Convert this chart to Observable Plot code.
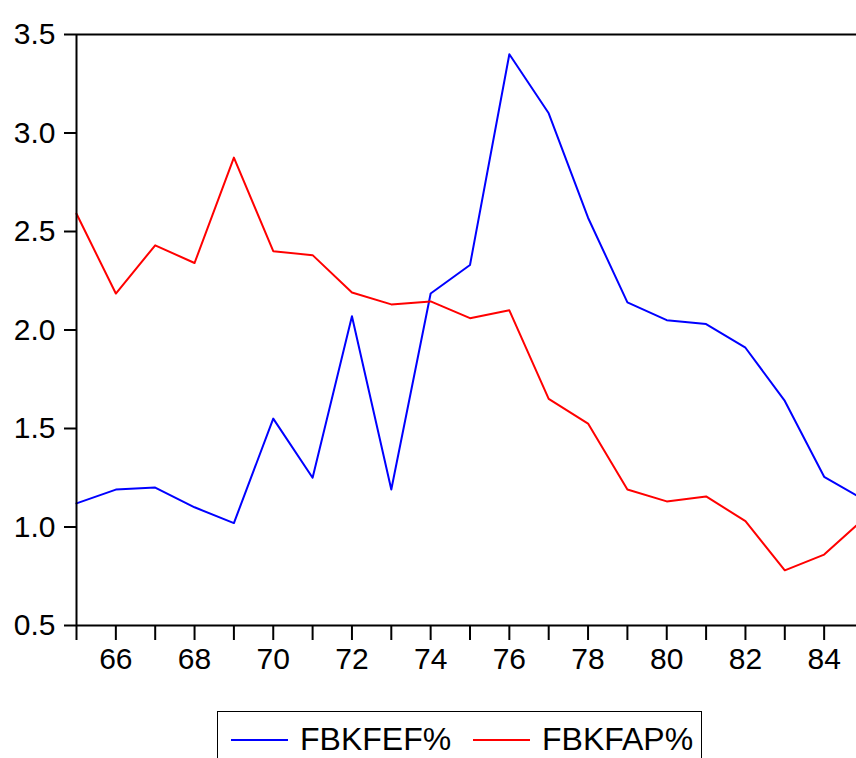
<!DOCTYPE html>
<html>
<head>
<meta charset="utf-8">
<script src="https://cdn.jsdelivr.net/npm/d3@7"></script>
<script src="https://cdn.jsdelivr.net/npm/@observablehq/plot@0.6"></script>
<style>
  html, body { margin: 0; padding: 0; background: white; overflow: hidden; }
  #chart svg { display: block; }
  .legend {
    margin-left: 217px; margin-top: 11px;
    width: 483px; height: 80px;
    border: 1.5px solid #000; box-sizing: content-box;
    font-family: "Liberation Sans", Arial, sans-serif; font-size: 32px;
    position: relative;
  }
  .legend .item { position: absolute; top: 9px; display: flex; align-items: center; }
  .legend .sw { display: inline-block; width: 57px; height: 0; border-top: 2px solid; margin-right: 12px; }
</style>
</head>
<body>
<div id="chart"></div>
<div class="legend">
  <div class="item" style="left:13px"><span class="sw" style="border-color:#0000ff"></span><span id="l1"></span></div>
  <div class="item" style="left:255px"><span class="sw" style="border-color:#ff0000"></span><span id="l2"></span></div>
</div>
<script>
const years = [65,66,67,68,69,70,71,72,73,74,75,76,77,78,79,80,81,82,83,84,85];
const fbkfef = [1.12,1.19,1.20,1.10,1.02,1.55,1.25,2.07,1.19,2.185,2.33,3.40,3.10,2.57,2.14,2.05,2.03,1.91,1.64,1.255,1.14];
const fbkfap = [2.59,2.185,2.43,2.34,2.875,2.40,2.38,2.19,2.13,2.145,2.06,2.10,1.65,1.525,1.19,1.13,1.155,1.03,0.78,0.86,1.04];
const seriesNames = ["FBKFEF%", "FBKFAP%"];
const seriesColors = ["#0000ff", "#ff0000"];
const yTicks = [0.5,1.0,1.5,2.0,2.5,3.0,3.5];

const data = [];
years.forEach((yr, i) => {
  data.push({year: yr, value: fbkfef[i], series: seriesNames[0]});
  data.push({year: yr, value: fbkfap[i], series: seriesNames[1]});
});

document.getElementById("l1").textContent = seriesNames[0];
document.getElementById("l2").textContent = seriesNames[1];

const chart = Plot.plot({
  width: 870,
  height: 700,
  marginLeft: 76,
  marginRight: 7,
  marginTop: 34,
  marginBottom: 75,
  style: {fontFamily: "'Liberation Sans', Arial, sans-serif", fontSize: "30px", color: "#000", maxWidth: "none", background: "white"},
  x: {domain: [65, 85]},
  y: {domain: [0.5, 3.5]},
  color: {domain: seriesNames, range: seriesColors},
  marks: [
    Plot.axisY({ticks: yTicks, tickFormat: d3.format(".1f"), tickSize: 12, tickPadding: 9, strokeWidth: 2, label: null, fontSize: 30}),
    Plot.axisX({ticks: years, tickFormat: d => d % 2 === 0 ? String(d) : "", tickSize: 15, tickPadding: 7, strokeWidth: 2, label: null, fontSize: 30}),
    Plot.line(data, {x: "year", y: "value", z: "series", stroke: "series", strokeWidth: 2}),
    Plot.ruleX([65], {stroke: "#000", strokeWidth: 2}),
    Plot.ruleY([0.5, 3.5], {stroke: "#000", strokeWidth: 2})
  ]
});
document.getElementById("chart").appendChild(chart);
</script>
</body>
</html>
